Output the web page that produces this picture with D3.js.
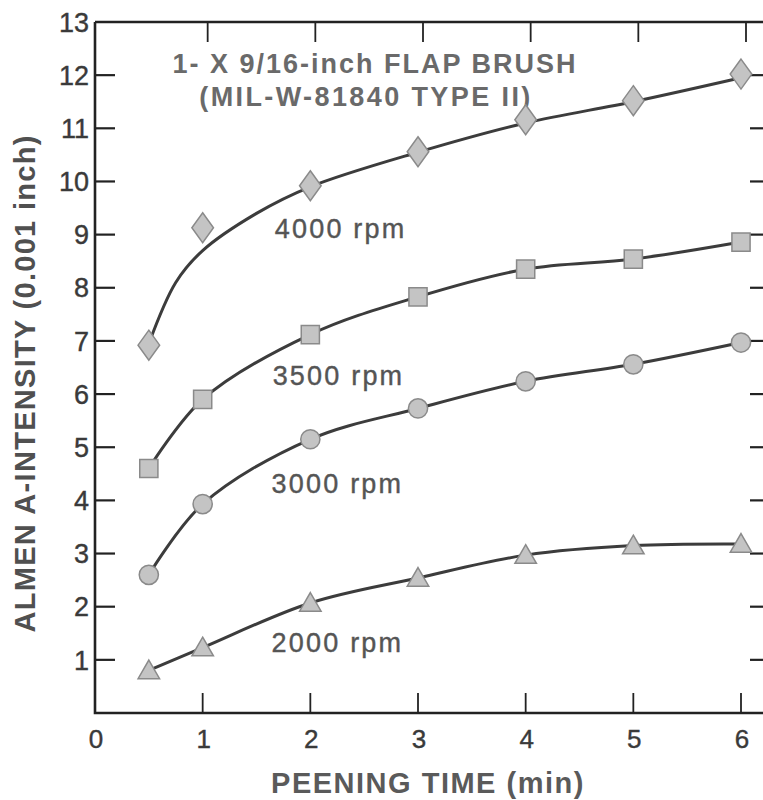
<!DOCTYPE html>
<html>
<head>
  <script src="https://d3js.org/d3.v7.min.js"></script>
  <style>
    body { margin: 0; background: #fff; }
    svg { display: block; font-family: "Liberation Sans", Arial, sans-serif; }
  </style>
</head>
<body>
  <script>
    // peening time (min) at which each brush speed was measured
    const times = [0.5, 1, 2, 3, 4, 5, 6];

    // Almen A-intensity readings (0.001 inch)
    const rpm4000 = [6.92, 9.13, 9.92, 10.56, 11.16, 11.52, 12.02];
    const rpm3500 = [4.6, 5.9, 7.12, 7.83, 8.35, 8.54, 8.86];
    const rpm3000 = [2.6, 3.93, 5.15, 5.73, 6.24, 6.56, 6.97];
    const rpm2000 = [0.8, 1.23, 2.07, 2.54, 2.97, 3.15, 3.18];

    // the 4000 rpm curve is a fitted line that skips the 1 min point
    const fitTimes4000 = [0.5, 0.75, 1, 1.5, 2, 3, 4, 5, 6];
    const fit4000 = [6.95, 8.1, 8.7, 9.4, 9.9, 10.55, 11.1, 11.5, 11.95];

    const xTicks = [0, 1, 2, 3, 4, 5, 6];
    const yTicks = [1, 2, 3, 4, 5, 6, 7, 8, 9, 10, 11, 12, 13];

    const W = 763, H = 800;
    const svg = d3.select("body").append("svg")
      .attr("width", W)
      .attr("height", H);

    const x = d3.scaleLinear().domain([0, 6]).range([95, 741]);
    const y = d3.scaleLinear().domain([0, 13]).range([713, 22]);
    const xRight = 770; // right frame sits just past the edge of the page

    const axisColor = "#222";
    const lineColor = "#3c3c3c";

    // frame
    svg.append("path")
      .attr("d", `M${x(0)},${y(13)}H${xRight}M${x(0)},${y(13)}V${y(0)}H${xRight}`)
      .attr("fill", "none")
      .attr("stroke", axisColor)
      .attr("stroke-width", 2.6);

    // y ticks, left and right, pointing inwards
    const tickLen = 20;
    svg.append("g").selectAll("line")
      .data(yTicks.slice(0, -1))
      .join("line")
      .attr("x1", x(0)).attr("x2", x(0) + tickLen)
      .attr("y1", d => y(d)).attr("y2", d => y(d))
      .attr("stroke", axisColor).attr("stroke-width", 2.2);
    svg.append("g").selectAll("line")
      .data(yTicks.slice(0, -1))
      .join("line")
      .attr("x1", xRight - tickLen).attr("x2", xRight)
      .attr("y1", d => y(d)).attr("y2", d => y(d))
      .attr("stroke", axisColor).attr("stroke-width", 2.2);

    // x ticks, bottom and top
    svg.append("g").selectAll("line")
      .data(xTicks.slice(1))
      .join("line")
      .attr("x1", d => x(d)).attr("x2", d => x(d))
      .attr("y1", y(0)).attr("y2", y(0) - tickLen)
      .attr("stroke", axisColor).attr("stroke-width", 1.8);
    svg.append("g").selectAll("line")
      .data(xTicks.slice(1))
      .join("line")
      .attr("x1", d => x(d) + 5).attr("x2", d => x(d) + 5)
      .attr("y1", y(13)).attr("y2", y(13) + tickLen)
      .attr("stroke", axisColor).attr("stroke-width", 1.8);

    // tick labels
    svg.append("g").selectAll("text")
      .data(yTicks)
      .join("text")
      .attr("x", 89)
      .attr("y", d => y(d))
      .attr("dy", "0.36em")
      .attr("text-anchor", "end")
      .attr("font-size", 27)
      .attr("fill", "#3a3a3a")
      .attr("stroke", "#3a3a3a")
      .attr("stroke-width", 0.4)
      .text(d => d);
    svg.append("g").selectAll("text")
      .data(xTicks)
      .join("text")
      .attr("x", d => x(d) + 1)
      .attr("y", 748)
      .attr("text-anchor", "middle")
      .attr("font-size", 26)
      .attr("fill", "#3a3a3a")
      .attr("stroke", "#3a3a3a")
      .attr("stroke-width", 0.4)
      .text(d => d);

    // axis titles
    svg.append("text")
      .attr("x", 428)
      .attr("y", 793)
      .attr("text-anchor", "middle")
      .attr("font-size", 29)
      .attr("font-weight", "bold")
      .attr("letter-spacing", 1.5)
      .attr("fill", "#5a5a5a")
      .text("PEENING TIME (min)");
    svg.append("text")
      .attr("transform", `translate(35,${y(6.2)}) rotate(-90)`)
      .attr("text-anchor", "middle")
      .attr("font-size", 29)
      .attr("font-weight", "bold")
      .attr("letter-spacing", 1.3)
      .attr("fill", "#505050")
      .text("ALMEN A-INTENSITY (0.001 inch)");

    // chart title inside the frame
    svg.append("text")
      .attr("x", 375)
      .attr("y", 73)
      .attr("text-anchor", "middle")
      .attr("font-size", 27)
      .attr("font-weight", "bold")
      .attr("letter-spacing", 2)
      .attr("fill", "#6a6a6a")
      .text("1- X 9/16-inch FLAP BRUSH");
    svg.append("text")
      .attr("x", 366)
      .attr("y", 106)
      .attr("text-anchor", "middle")
      .attr("font-size", 27)
      .attr("font-weight", "bold")
      .attr("letter-spacing", 2.4)
      .attr("fill", "#6a6a6a")
      .text("(MIL-W-81840 TYPE II)");

    // curves
    const line = d3.line()
      .x(d => x(d[0]))
      .y(d => y(d[1]))
      .curve(d3.curveCatmullRom.alpha(0.5));

    const series = [
      { label: "4000 rpm", values: rpm4000, curve: d3.zip(fitTimes4000, fit4000), shape: "diamond", lx: 1.67, ly: 8.94 },
      { label: "3500 rpm", values: rpm3500, curve: d3.zip(times, rpm3500), shape: "square", lx: 1.65, ly: 6.17 },
      { label: "3000 rpm", values: rpm3000, curve: d3.zip(times, rpm3000), shape: "circle", lx: 1.64, ly: 4.14 },
      { label: "2000 rpm", values: rpm2000, curve: d3.zip(times, rpm2000), shape: "triangle", lx: 1.64, ly: 1.15 }
    ];

    const diamond = {
      draw(ctx, size) {
        const h = Math.sqrt(size) * 0.75, w = h * 0.72;
        ctx.moveTo(0, -h);
        ctx.lineTo(w, 0);
        ctx.lineTo(0, h);
        ctx.lineTo(-w, 0);
        ctx.closePath();
      }
    };
    const symbols = {
      diamond: d3.symbol(diamond, 400),
      square: d3.symbol(d3.symbolSquare, 330),
      circle: d3.symbol(d3.symbolCircle, 290),
      triangle: d3.symbol(d3.symbolTriangle, 200)
    };

    series.forEach(s => {
      svg.append("path")
        .datum(s.curve)
        .attr("fill", "none")
        .attr("stroke", lineColor)
        .attr("stroke-width", 3)
        .attr("stroke-linecap", "round")
        .attr("d", line);

      svg.append("g").selectAll("path")
        .data(d3.zip(times, s.values))
        .join("path")
        .attr("transform", d => `translate(${x(d[0])},${y(d[1]) + (s.shape === "triangle" ? 2 : 0)})`)
        .attr("d", symbols[s.shape])
        .attr("fill", "#c4c4c4")
        .attr("stroke", "#8a8a8a")
        .attr("stroke-width", 1.5);

      svg.append("text")
        .attr("x", x(s.lx))
        .attr("y", y(s.ly))
        .attr("font-size", 27)
        .attr("letter-spacing", 2.2)
        .attr("fill", "#555")
        .attr("stroke", "#555")
        .attr("stroke-width", 0.4)
        .text(s.label);
    });
  </script>
</body>
</html>
